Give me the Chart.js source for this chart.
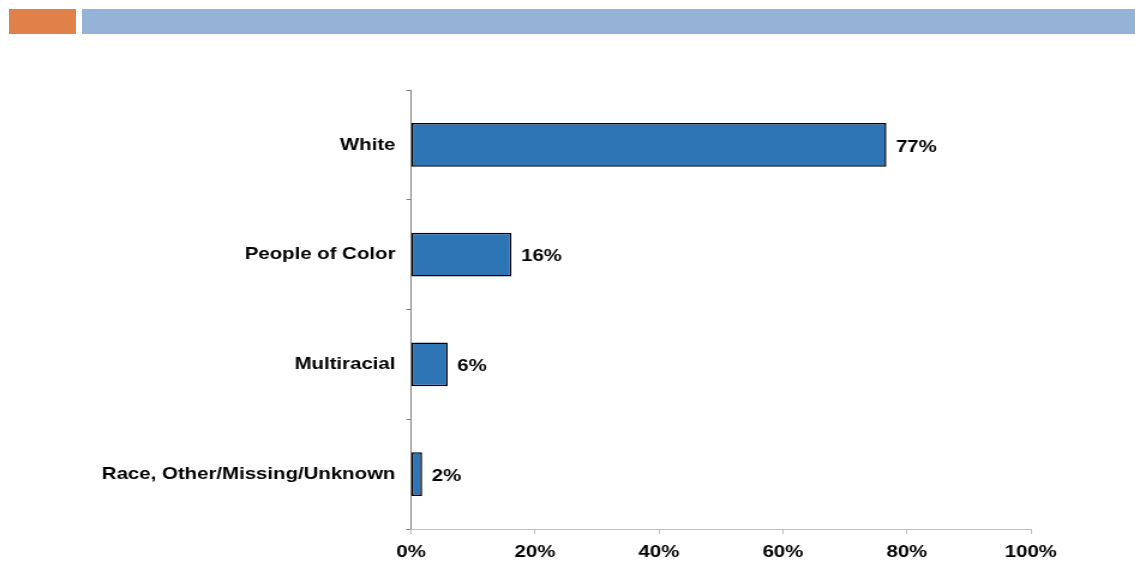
<!DOCTYPE html>
<html>
<head>
<meta charset="utf-8">
<script src="https://cdn.jsdelivr.net/npm/chart.js@4"></script>
<style>
  html, body { margin: 0; padding: 0; background: #fff; overflow: hidden; }
  body { width: 1135px; height: 562px; position: relative; }
  .band { position: absolute; top: 9px; height: 25px; }
  #band-orange { left: 9px; width: 67px; background: #e0814a; }
  #band-blue { left: 82px; width: 1053px; background: #95b3d6; }
  /* chart is laid out narrow and stretched to the page width */
  #wrap { position: absolute; left: 0; top: 0; width: 946px; height: 562px;
          transform: scaleX(1.2); transform-origin: 0 0; }
</style>
</head>
<body>
<div class="band" id="band-orange"></div>
<div class="band" id="band-blue"></div>
<div id="wrap"><canvas id="chart" width="946" height="562"></canvas></div>
<script>
document.addEventListener("DOMContentLoaded", () => {

  const categories = ["White", "People of Color", "Multiracial", "Race, Other/Missing/Unknown"];
  const shares = [76.7, 16.2, 5.9, 1.8];
  const xTicks = [0, 20, 40, 60, 80, 100];

  const fontFamily = "'Liberation Sans', Arial, sans-serif";
  const boldFont = { family: fontFamily, size: 17, weight: "bold" };

  // percent labels just past the end of each bar
  const valueLabels = {
    id: "valueLabels",
    afterDatasetsDraw(chart) {
      const ctx = chart.ctx;
      const meta = chart.getDatasetMeta(0);
      ctx.save();
      ctx.font = `bold 17px ${fontFamily}`;
      ctx.fillStyle = "#000";
      ctx.textAlign = "left";
      ctx.textBaseline = "middle";
      meta.data.forEach((bar, i) => {
        const value = chart.data.datasets[0].data[i];
        ctx.fillText(Math.round(value) + "%", bar.x + 8, bar.y + 2);
      });
      ctx.restore();
    },
  };

  new Chart(document.getElementById("chart").getContext("2d"), {
    type: "bar",
    data: {
      labels: categories,
      datasets: [
        {
          data: shares,
          backgroundColor: "#2e75b6",
          borderColor: "#000",
          borderWidth: 1.5,
          borderSkipped: false,
          categoryPercentage: 1,
          barPercentage: 0.4,
        },
      ],
    },
    options: {
      indexAxis: "y",
      responsive: false,
      animation: false,
      layout: { padding: { top: 90, right: 87, left: 0, bottom: 0 } },
      plugins: { legend: { display: false }, tooltip: { enabled: false } },
      scales: {
        y: {
          grid: { drawOnChartArea: false, tickLength: 4, color: "#808080", offset: true },
          border: { color: "#808080", width: 1 },
          ticks: { color: "#000", font: boldFont, padding: 9 },
          afterFit(scale) { scale.width = 342.5; },
        },
        x: {
          min: 0,
          max: 100,
          afterBuildTicks(scale) { scale.ticks = xTicks.map((v) => ({ value: v })); },
          grid: { drawOnChartArea: false, tickLength: 5, color: "#bfbfbf" },
          border: { color: "#bfbfbf", width: 1 },
          ticks: { color: "#000", font: boldFont, padding: 8, callback: (v) => v + "%" },
          afterFit(scale) { scale.height = 33; },
        },
      },
    },
    plugins: [valueLabels],
  });
});
</script>
</body>
</html>
